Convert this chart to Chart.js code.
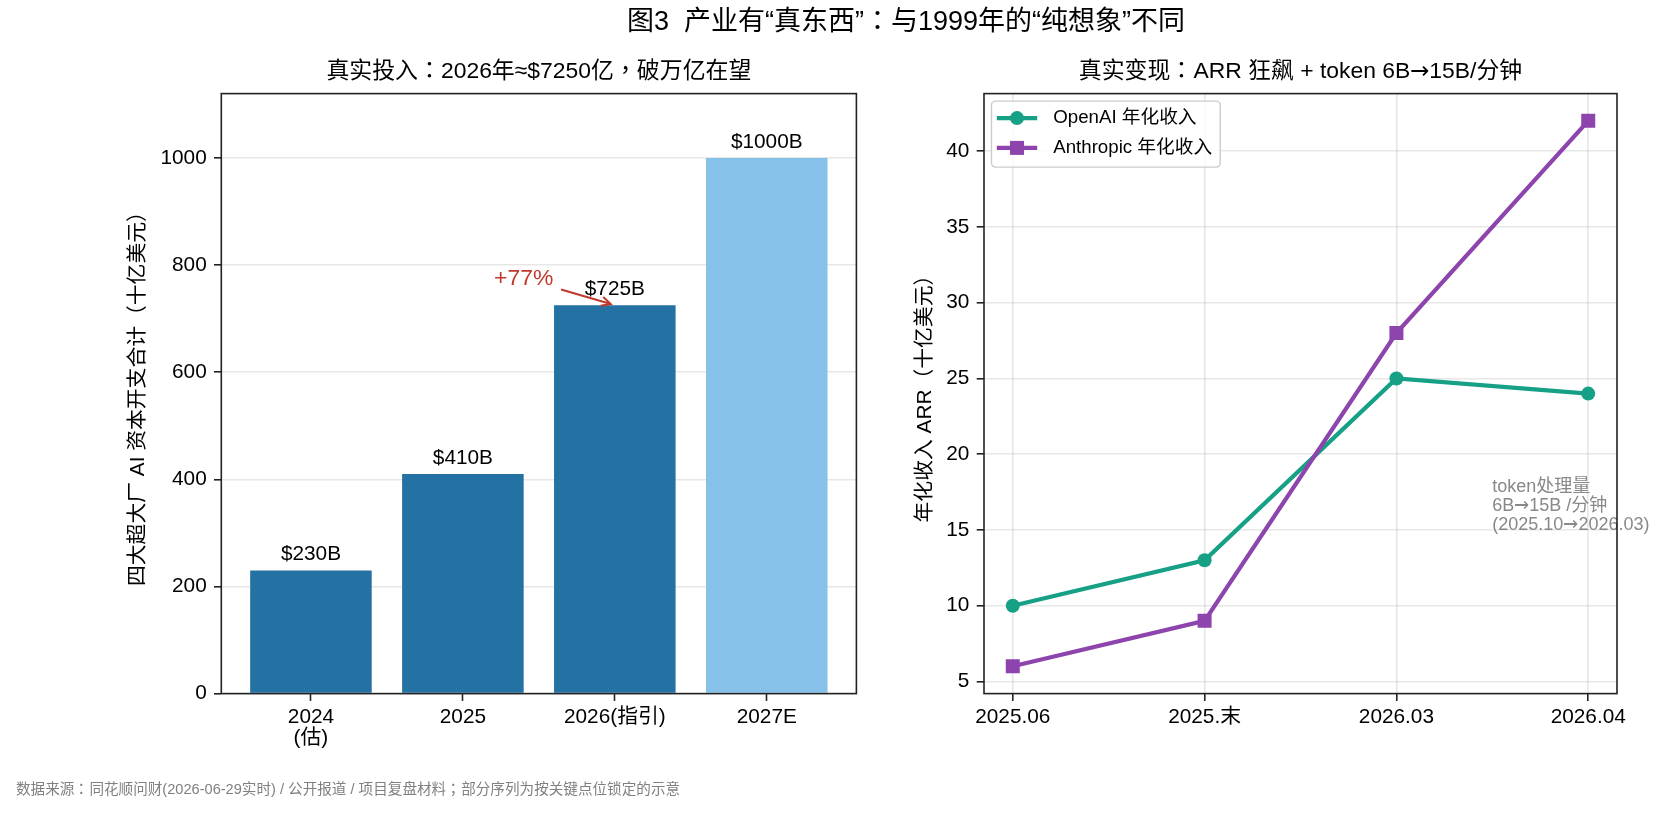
<!DOCTYPE html>
<html>
<head>
<meta charset="utf-8">
<script src="https://cdn.jsdelivr.net/npm/chart.js@4.4.1/dist/chart.umd.min.js"></script>
<style>
@font-face{
  font-family:"PunctTC";
  src:local("Noto Sans CJK TC Regular"),local("NotoSansCJKtc-Regular"),local("Noto Sans CJK TC");
  unicode-range:U+FF0C,U+FF1A,U+FF1B;
}
@font-face{
  font-family:"ArrowDV";
  src:local("DejaVu Sans"),local("DejaVuSans");
  unicode-range:U+2192;
}
html,body{margin:0;padding:0;background:#fff;}
#wrap{position:relative;width:1668px;height:813px;overflow:hidden;background:#fff;font-family:"ArrowDV","Liberation Sans","PunctTC","Noto Sans CJK SC",sans-serif;}
#c1{position:absolute;left:0;top:0;}
#c2{position:absolute;left:880px;top:0;}
#sup{position:absolute;left:0;top:6px;width:1812px;text-align:center;font-size:27px;line-height:31px;color:#000;white-space:pre;}
#foot{position:absolute;left:16px;top:780px;font-size:14.6px;line-height:18px;color:#808080;white-space:pre;}
</style>
</head>
<body>
<div id="wrap">
  <canvas id="c1" width="880" height="813"></canvas>
  <canvas id="c2" width="788" height="813"></canvas>
  <div id="sup">图3  产业有“真东西”：与1999年的“纯想象”不同</div>
  <div id="foot">数据来源：同花顺问财(2026-06-29实时) / 公开报道 / 项目复盘材料；部分序列为按关键点位锁定的示意</div>
</div>
<script>
// ---------- data ----------
const capexCategories = ['2024\n(估)', '2025', '2026(指引)', '2027E'];
const capexValues = [230, 410, 725, 1000];
const capexColors = ['#2471A3', '#2471A3', '#2471A3', '#85C1E9'];
const capexTicks = [0, 200, 400, 600, 800, 1000];

const arrPeriods = ['2025.06', '2025.末', '2026.03', '2026.04'];
const openaiArr = [10, 13, 25, 24];
const anthropicArr = [6, 9, 28, 42];
const arrTicks = [5, 10, 15, 20, 25, 30, 35, 40];

const tokenNote = ['token处理量', '6B→15B /分钟', '(2025.10→2026.03)'];

// ---------- style ----------
const FONT = '"ArrowDV", "Liberation Sans", "PunctTC", "Noto Sans CJK SC", sans-serif';
const GRID = 'rgba(176,176,176,0.3)';
const SPINE = '#222';

const framePlugin = {
  id: 'frame',
  afterDraw(chart, args, opts) {
    const {ctx, chartArea: a} = chart;
    ctx.save();
    ctx.strokeStyle = SPINE;
    ctx.lineWidth = 1.6;
    ctx.strokeRect(a.left, a.top, a.right - a.left, a.bottom - a.top);
    ctx.fillStyle = '#000';
    ctx.font = '22.9px ' + FONT;
    ctx.textAlign = 'center';
    ctx.textBaseline = 'middle';
    ctx.fillText(opts.title, (a.left + a.right) / 2, 72);
    ctx.restore();
  }
};

const barLabelPlugin = {
  id: 'barLabels',
  afterDatasetsDraw(chart) {
    const {ctx} = chart;
    const xs = chart.scales.x, ys = chart.scales.y;
    const meta = chart.getDatasetMeta(0);
    ctx.save();
    ctx.fillStyle = '#000';
    ctx.font = '20.8px ' + FONT;
    ctx.textAlign = 'center';
    ctx.textBaseline = 'middle';
    meta.data.forEach((bar, i) => {
      ctx.fillText('$' + capexValues[i] + 'B', bar.x, bar.y - 16);
    });
    // growth annotation
    const growth = Math.round((capexValues[2] / capexValues[1] - 1) * 100);
    const txt = '+' + growth + '%';
    const cx = xs.getPixelForValue(1.4), cy = ys.getPixelForValue(775);
    ctx.fillStyle = '#C0392B';
    ctx.font = '22.9px ' + FONT;
    ctx.fillText(txt, cx, cy);
    const w = ctx.measureText(txt).width;
    const tx = xs.getPixelForValue(2), ty = ys.getPixelForValue(capexValues[2]);
    const dx = tx - cx, dy = ty - cy;
    const len = Math.hypot(dx, dy);
    const ux = dx / len, uy = dy / len;
    const t = Math.min((w / 2 + 4) / Math.abs(dx), (13 + 4) / Math.abs(dy));
    const sx = cx + dx * t + ux * 4, sy = cy + dy * t + uy * 4;
    const ex = tx - ux * 4.2, ey = ty - uy * 4.2;
    ctx.strokeStyle = '#C0392B';
    ctx.lineWidth = 2;
    ctx.beginPath();
    ctx.moveTo(sx, sy);
    ctx.lineTo(ex, ey);
    const hl = 9.2, hw = 4.6;
    ctx.moveTo(ex - ux * hl - uy * hw, ey - uy * hl + ux * hw);
    ctx.lineTo(ex, ey);
    ctx.lineTo(ex - ux * hl + uy * hw, ey - uy * hl - ux * hw);
    ctx.stroke();
    ctx.restore();
  }
};

const boxLegendPlugin = {
  id: 'boxLegend',
  afterDraw(chart) {
    const {ctx, chartArea: a} = chart;
    const bx = a.left + 7.5, by = a.top + 7.5, bw = 228.7, bh = 66;
    ctx.save();
    ctx.beginPath();
    ctx.roundRect(bx, by, bw, bh, 4);
    ctx.fillStyle = 'rgba(255,255,255,0.8)';
    ctx.fill();
    ctx.strokeStyle = '#cccccc';
    ctx.lineWidth = 1.4;
    ctx.stroke();
    chart.data.datasets.forEach((ds, i) => {
      const y = by + 17 + i * 29.8;
      ctx.strokeStyle = ds.borderColor;
      ctx.lineWidth = ds.borderWidth;
      ctx.beginPath();
      ctx.moveTo(bx + 5.3, y);
      ctx.lineTo(bx + 45.7, y);
      ctx.stroke();
      ctx.fillStyle = ds.backgroundColor;
      const mx = bx + 25.5;
      if (ds.pointStyle === 'rect') {
        const h = ds.pointRadius * Math.SQRT1_2;
        ctx.fillRect(mx - h, y - h, 2 * h, 2 * h);
      } else {
        ctx.beginPath();
        ctx.arc(mx, y, ds.pointRadius, 0, Math.PI * 2);
        ctx.fill();
      }
      ctx.fillStyle = '#000';
      ctx.font = '18.7px ' + FONT;
      ctx.textAlign = 'left';
      ctx.textBaseline = 'middle';
      ctx.fillText(ds.label, bx + 61.7, y);
    });
    ctx.restore();
  }
};

const notePlugin = {
  id: 'note',
  afterDatasetsDraw(chart) {
    const {ctx} = chart;
    const x = chart.scales.x.getPixelForValue(2.5);
    const yb = chart.scales.y.getPixelForValue(15);
    ctx.save();
    ctx.fillStyle = '#888888';
    ctx.font = '18px ' + FONT;
    ctx.textAlign = 'left';
    ctx.textBaseline = 'alphabetic';
    const n = tokenNote.length;
    tokenNote.forEach((line, i) => {
      ctx.fillText(line, x, yb - (n - 1 - i) * 19);
    });
    ctx.restore();
  }
};

function tickMarks() {
  return {tickColor: SPINE, tickLength: 7.3, tickWidth: 1.6, offset: false};
}

function build() {
  Chart.defaults.font.family = FONT;
  Chart.defaults.color = '#000';

  // ---------- left chart ----------
  new Chart(document.getElementById('c1'), {
    type: 'bar',
    data: {
      datasets: [{
        data: capexValues.map((v, i) => ({x: i, y: v})),
        backgroundColor: capexColors,
        borderWidth: 0,
        barPercentage: 0.8,
        categoryPercentage: 1.0
      }]
    },
    options: {
      responsive: false,
      animation: false,
      events: [],
      layout: {padding: {left: 0, top: 93.6, right: 23.6, bottom: 0}},
      plugins: {
        legend: {display: false},
        tooltip: {enabled: false},
        frame: {title: '真实投入：2026年≈$7250亿，破万亿在望'}
      },
      scales: {
        x: {
          type: 'linear', min: -0.59, max: 3.59, bounds: 'data', offset: false,
          afterBuildTicks: s => { s.ticks = capexCategories.map((_, i) => ({value: i})); },
          afterFit: s => { s.height = 813 - 693.6; },
          grid: Object.assign({drawOnChartArea: false, color: GRID}, tickMarks()),
          border: {display: false},
          ticks: {
            callback: v => capexCategories[v].split('\n'),
            font: {size: 20.8, lineHeight: 1.02}, color: '#000', padding: 5.5,
            maxRotation: 0, autoSkip: false
          }
        },
        y: {
          type: 'linear', min: 0, max: 1120, bounds: 'data',
          afterBuildTicks: s => { s.ticks = capexTicks.map(v => ({value: v})); },
          afterFit: s => { s.width = 221.3; },
          grid: Object.assign({color: GRID, lineWidth: 1.6}, tickMarks()),
          border: {display: false},
          ticks: {callback: v => String(v), font: {size: 20.8}, color: '#000', padding: 7.3},
          title: {
            display: true, text: '四大超大厂 AI 资本开支合计（十亿美元）',
            font: {size: 20.8}, color: '#000', padding: {top: 125.8, bottom: 0}
          }
        }
      }
    },
    plugins: [barLabelPlugin, framePlugin]
  });

  // ---------- right chart ----------
  new Chart(document.getElementById('c2'), {
    type: 'line',
    data: {
      datasets: [
        {
          label: 'OpenAI 年化收入',
          data: openaiArr.map((v, i) => ({x: i, y: v})),
          borderColor: '#16A085', backgroundColor: '#16A085',
          borderWidth: 4.2, pointStyle: 'circle', pointRadius: 7,
          pointBorderWidth: 0, tension: 0, order: 1
        },
        {
          label: 'Anthropic 年化收入',
          data: anthropicArr.map((v, i) => ({x: i, y: v})),
          borderColor: '#8E44AD', backgroundColor: '#8E44AD',
          borderWidth: 4.2, pointStyle: 'rect', pointRadius: 9.9,
          pointBorderWidth: 0, tension: 0, order: 0
        }
      ]
    },
    options: {
      responsive: false,
      animation: false,
      events: [],
      layout: {padding: {left: 0, top: 93.6, right: 51, bottom: 0}},
      plugins: {
        legend: {display: false},
        tooltip: {enabled: false},
        frame: {title: '真实变现：ARR 狂飙 + token 6B→15B/分钟'}
      },
      scales: {
        x: {
          type: 'linear', min: -0.15, max: 3.15, bounds: 'data', offset: false,
          afterBuildTicks: s => { s.ticks = arrPeriods.map((_, i) => ({value: i})); },
          afterFit: s => { s.height = 813 - 693.6; },
          grid: Object.assign({color: GRID, lineWidth: 1.6}, tickMarks()),
          border: {display: false},
          ticks: {
            callback: v => arrPeriods[v],
            font: {size: 20.8, lineHeight: 1.02}, color: '#000', padding: 5.5,
            maxRotation: 0, autoSkip: false
          }
        },
        y: {
          type: 'linear', min: 4.2, max: 43.8, bounds: 'data',
          afterBuildTicks: s => { s.ticks = arrTicks.map(v => ({value: v})); },
          afterFit: s => { s.width = 104; },
          grid: Object.assign({color: GRID, lineWidth: 1.6}, tickMarks()),
          border: {display: false},
          ticks: {callback: v => String(v), font: {size: 20.8}, color: '#000', padding: 7.3},
          title: {
            display: true, text: '年化收入 ARR（十亿美元）',
            font: {size: 20.8}, color: '#000', padding: {top: 33, bottom: 0}
          }
        }
      }
    },
    plugins: [notePlugin, framePlugin, boxLegendPlugin]
  });
}

const fontLoads = [
  document.fonts.load('20px "PunctTC"', '：，；'),
  document.fonts.load('20px "ArrowDV"', '→'),
  document.fonts.load('20px "Noto Sans CJK SC"', '真实'),
  document.fonts.load('20px "Liberation Sans"', 'A1')
];
Promise.all(fontLoads).then(build, build);
</script>
</body>
</html>
